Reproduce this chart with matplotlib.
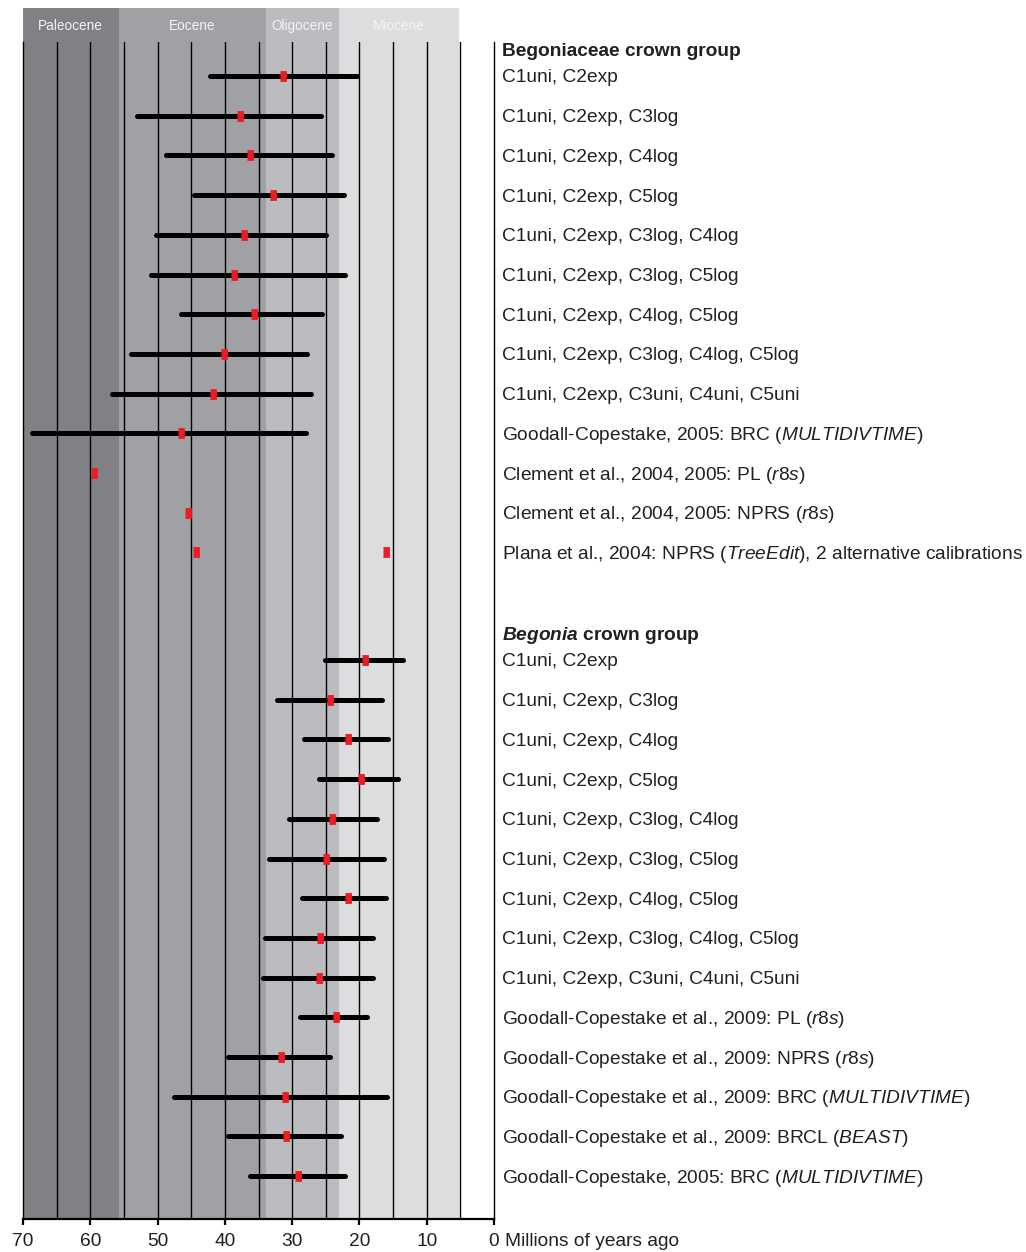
import numpy as np
import matplotlib
matplotlib.use("Agg")
import matplotlib.pyplot as plt
from matplotlib.transforms import blended_transform_factory, offset_copy

# ---------------- data ----------------
epoch_names = ["Paleocene", "Eocene", "Oligocene", "Miocene"]
epoch_start = [70.0, 55.8, 33.9, 23.03]
epoch_end = [55.8, 33.9, 23.03, 5.2]
epoch_colors = ["#808184", "#a0a1a4", "#bbbcbf", "#dcdddf"]

family_title = "Begoniaceae crown group"
family_labels = [
    "C1uni, C2exp",
    "C1uni, C2exp, C3log",
    "C1uni, C2exp, C4log",
    "C1uni, C2exp, C5log",
    "C1uni, C2exp, C3log, C4log",
    "C1uni, C2exp, C3log, C5log",
    "C1uni, C2exp, C4log, C5log",
    "C1uni, C2exp, C3log, C4log, C5log",
    "C1uni, C2exp, C3uni, C4uni, C5uni",
    r"Goodall-Copestake, 2005: BRC ($\mathit{MULTIDIVTIME}$)",
    r"Clement et al., 2004, 2005: PL ($\mathit{r8s}$)",
    r"Clement et al., 2004, 2005: NPRS ($\mathit{r8s}$)",
    r"Plana et al., 2004: NPRS ($\mathit{TreeEdit}$), 2 alternative calibrations",
]
family_old = [42.2, 53.1, 48.7, 44.6, 50.2, 51.0, 46.5, 54.0, 56.8, 68.7, np.nan, np.nan, np.nan]
family_young = [20.4, 25.7, 24.1, 22.3, 25.0, 22.1, 25.6, 27.8, 27.2, 27.9, np.nan, np.nan, np.nan]
family_mean = [31.4, 37.75, 36.3, 32.85, 37.2, 38.6, 35.7, 40.1, 41.8, 46.5, 59.4, 45.5, 44.3]
family_alt = [np.nan] * 12 + [16.05]

genus_title = r"$\mathbfit{Begonia}$ crown group"
genus_labels = [
    "C1uni, C2exp",
    "C1uni, C2exp, C3log",
    "C1uni, C2exp, C4log",
    "C1uni, C2exp, C5log",
    "C1uni, C2exp, C3log, C4log",
    "C1uni, C2exp, C3log, C5log",
    "C1uni, C2exp, C4log, C5log",
    "C1uni, C2exp, C3log, C4log, C5log",
    "C1uni, C2exp, C3uni, C4uni, C5uni",
    r"Goodall-Copestake et al., 2009: PL ($\mathit{r8s}$)",
    r"Goodall-Copestake et al., 2009: NPRS ($\mathit{r8s}$)",
    r"Goodall-Copestake et al., 2009: BRC ($\mathit{MULTIDIVTIME}$)",
    r"Goodall-Copestake et al., 2009: BRCL ($\mathit{BEAST}$)",
    r"Goodall-Copestake, 2005: BRC ($\mathit{MULTIDIVTIME}$)",
]
genus_old = [25.1, 32.25, 28.2, 26.0, 30.5, 33.4, 28.5, 34.0, 34.3, 28.8, 39.5, 47.6, 39.5, 36.3]
genus_young = [13.5, 16.6, 15.75, 14.3, 17.4, 16.35, 16.05, 18.0, 18.0, 18.9, 24.4, 15.9, 22.7, 22.1]
genus_mean = [19.2, 24.4, 21.7, 19.8, 24.1, 25.0, 21.7, 25.9, 26.0, 23.5, 31.7, 31.1, 30.9, 29.1]

x_ticks = [70, 60, 50, 40, 30, 20, 10, 0]
grid_lines = [65, 60, 55, 50, 45, 40, 35, 30, 25, 20, 15, 10, 5]
axis_label = "Millions of years ago"

# ---------------- style ----------------
plt.rcParams["font.family"] = ["Liberation Sans", "DejaVu Sans"]
plt.rcParams["mathtext.fontset"] = "custom"
plt.rcParams["mathtext.rm"] = "Liberation Sans"
plt.rcParams["mathtext.it"] = "Liberation Sans:italic"
plt.rcParams["mathtext.bf"] = "Liberation Sans:bold"
plt.rcParams["mathtext.bfit"] = "Liberation Sans:italic:bold"

TXT = "#231f20"
FS = 13.8
RED = "#ed1c24"
MARK = [(-0.66, -1), (0.66, -1), (0.66, 1), (-0.66, 1)]
MS = 6.6

W, H = 1026, 1252
fig = plt.figure(figsize=(W / 100, H / 100), dpi=100)
ax_left, ax_right, ax_top, ax_bot = 23, 494, 42, 1219
ax = fig.add_axes([ax_left / W, 1 - ax_bot / H, (ax_right - ax_left) / W, (ax_bot - ax_top) / H])

row_px = 39.7
first_row_px = 76
genus_offset = (660 - 76) / row_px
ax.set_xlim(70, 0)
ax.set_ylim((ax_bot - first_row_px) / row_px, (ax_top - first_row_px) / row_px)

y_family = np.arange(len(family_labels), dtype=float)
y_genus = genus_offset + np.arange(len(genus_labels), dtype=float)
y_family_title = (50 - 76) / row_px
y_genus_title = (634 - 76) / row_px

# epoch shading
head_h = 34 / (ax_bot - ax_top)
trans_bl = blended_transform_factory(ax.transData, ax.transAxes)
for name, s, e, c in zip(epoch_names, epoch_start, epoch_end, epoch_colors):
    ax.axvspan(e, s, color=c, zorder=0, lw=0)
    rect = plt.Rectangle((e, 1.0), s - e, head_h, transform=trans_bl,
                         facecolor=c, edgecolor="none", clip_on=False, zorder=0)
    ax.add_patch(rect)
    ax.text((s + e) / 2, 1 + head_h * 0.47, name, transform=trans_bl,
            ha="center", va="center", fontsize=9.8, color="#f4f4f4", clip_on=False)

# grid lines
for g in grid_lines:
    ax.axvline(g, color="black", lw=1.0, zorder=1)

# bars and points
def draw_group(ys, old, young, mean):
    for y, o, yg, m in zip(ys, old, young, mean):
        if not np.isnan(o):
            ax.plot([o, yg], [y, y], color="black", lw=3.6, solid_capstyle="round", zorder=2)
        ax.plot([m], [y], marker=MARK, ms=MS, color=RED, mec=RED, mew=0.6,
                zorder=3, ls="none")

draw_group(y_family, family_old, family_young, family_mean)
draw_group(y_genus, genus_old, genus_young, genus_mean)
for y, a in zip(y_family, family_alt):
    if not np.isnan(a):
        ax.plot([a], [y], marker=MARK, ms=MS, color=RED, mec=RED, mew=0.6,
                zorder=3, ls="none")

# labels
trans_lab = offset_copy(blended_transform_factory(ax.transAxes, ax.transData),
                        fig=fig, x=0, y=-2, units="dots")
lab_x = 1 + (502 - ax_right) / (ax_right - ax_left)
ax.text(lab_x, y_family_title, family_title, transform=trans_lab, ha="left", va="center",
        fontsize=FS, fontweight="bold", color=TXT, clip_on=False)
ax.text(lab_x, y_genus_title, genus_title, transform=trans_lab, ha="left", va="center",
        fontsize=FS, fontweight="bold", color=TXT, clip_on=False)
for y, lab in zip(y_family, family_labels):
    ax.text(lab_x, y, lab, transform=trans_lab, ha="left", va="center",
            fontsize=FS, color=TXT, clip_on=False)
for y, lab in zip(y_genus, genus_labels):
    ax.text(lab_x, y, lab, transform=trans_lab, ha="left", va="center",
            fontsize=FS, color=TXT, clip_on=False)

# axes styling
ax.spines["top"].set_visible(False)
ax.spines["left"].set_linewidth(1.0)
ax.spines["right"].set_linewidth(1.0)
ax.spines["bottom"].set_linewidth(1.6)
for sp in ax.spines.values():
    sp.set_color("black")
ax.set_yticks([])
ax.set_xticks(x_ticks)
ax.set_xticklabels([str(t) for t in x_ticks])
TICK_LEN, TICK_PAD = 4.5, 5.5
ax.tick_params(axis="x", direction="out", length=TICK_LEN, width=1.6, color="black",
               labelsize=FS, labelcolor=TXT, pad=TICK_PAD)
lab_trans = offset_copy(ax.transAxes, fig=fig, x=0, y=-(TICK_LEN + TICK_PAD), units="points")
ax.text(1 + 11 / (ax_right - ax_left), 0, axis_label, transform=lab_trans,
        ha="left", va="top", fontsize=FS, color=TXT, clip_on=False)

fig.savefig("out.png", dpi=100)
